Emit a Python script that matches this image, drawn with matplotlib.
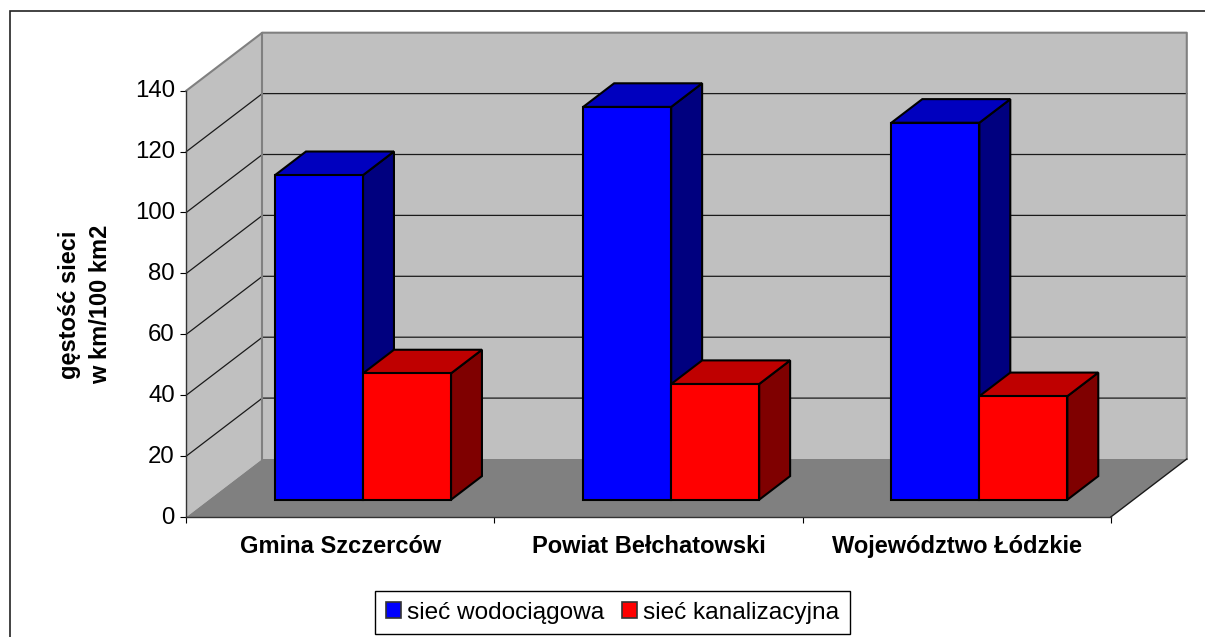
"""Polish network density chart, drawn as an Excel-style oblique 3D column chart."""

import matplotlib.pyplot as plt
from matplotlib.patches import Patch, Polygon, Rectangle
from matplotlib.transforms import ScaledTranslation

plt.rcParams["font.family"] = ["Liberation Sans", "DejaVu Sans"]

categories = ["Gmina Szczerców", "Powiat Bełchatowski", "Województwo Łódzkie"]
water = [106.6, 129, 123.8]
sewer = [41.5, 38, 34]
series_names = ["sieć wodociągowa", "sieć kanalizacyjna"]
y_ticks = [0, 20, 40, 60, 80, 100, 120, 140]
y_label = "gęstość sieci\nw km/100 km2"

# oblique depth of the chart box, in data units (1 depth = back wall)
DX = 76 / 308.2
DY = 58 / 3.045
BAR_W = 88 / 308.2
BAR_D0, BAR_D1 = 0.298, 0.705


def proj(x, y, d=0.0):
    return (x + d * DX, y + d * DY)


def quad(ax, pts, face, edge="none", lw=0.0, z=1):
    ax.add_patch(Polygon(pts, closed=True, facecolor=face, edgecolor=edge,
                         linewidth=lw, zorder=z, clip_on=False, joinstyle="miter"))


def draw_box(ax, x0, x1, h, colors, z):
    front, top, side = colors
    lw = 1.5
    quad(ax, [proj(x1, 0, BAR_D0), proj(x1, 0, BAR_D1), proj(x1, h, BAR_D1), proj(x1, h, BAR_D0)],
         side, "black", lw, z)
    quad(ax, [proj(x0, h, BAR_D0), proj(x0, h, BAR_D1), proj(x1, h, BAR_D1), proj(x1, h, BAR_D0)],
         top, "black", lw, z)
    quad(ax, [proj(x0, 0, BAR_D0), proj(x1, 0, BAR_D0), proj(x1, h, BAR_D0), proj(x0, h, BAR_D0)],
         front, "black", lw, z + 0.1)


def main():
    fig = plt.figure(figsize=(12.05, 6.37), dpi=100)
    fig.patch.set_facecolor("white")
    fig.add_artist(Rectangle((10 / 1205, -0.01), 1.1, 1 - 11 / 637 + 0.01,
                             transform=fig.transFigure, facecolor="none",
                             edgecolor="#222222", linewidth=1.2))

    ax = fig.add_axes([186.3 / 1205, (637 - 517) / 637, 924.5 / 1205, 426.3 / 637])
    ax.set_xlim(0, 3)
    ax.set_ylim(0, 140)
    ax.patch.set_visible(False)

    # walls and floor
    top = y_ticks[-1]
    quad(ax, [proj(0, 0, 1), proj(3, 0, 1), proj(3, top, 1), proj(0, top, 1)], "#c0c0c0", z=1)
    quad(ax, [proj(0, 0), proj(0, 0, 1), proj(0, top, 1), proj(0, top)], "#c0c0c0", z=1)
    quad(ax, [proj(0, 0), proj(3, 0), proj(3, 0, 1), proj(0, 0, 1)], "#808080", z=1)

    for v in y_ticks[1:-1]:
        xs, ys = zip(proj(0, v), proj(0, v, 1), proj(3, v, 1))
        ax.plot(xs, ys, color="#1a1a1a", lw=0.9, zorder=2, clip_on=False)

    # wall outlines
    xs, ys = zip(proj(0, top), proj(0, top, 1), proj(3, top, 1), proj(3, 0, 1))
    ax.plot(xs, ys, color="#808080", lw=1.5, zorder=2, clip_on=False)
    xs, ys = zip(proj(0, 0, 1), proj(0, top, 1))
    ax.plot(xs, ys, color="#808080", lw=1.5, zorder=2, clip_on=False)
    xs, ys = zip(proj(3, 0), proj(3, 0, 1))
    ax.plot(xs, ys, color="#1a1a1a", lw=1.0, zorder=2, clip_on=False)

    # columns
    for i in range(len(categories)):
        c = i + 0.5
        draw_box(ax, c - BAR_W, c, water[i], ("#0000ff", "#0000bf", "#00007f"), 3 + i)
        draw_box(ax, c, c + BAR_W, sewer[i], ("#ff0000", "#bf0000", "#7f0000"), 3.5 + i)

    # axes
    for side in ("top", "right"):
        ax.spines[side].set_visible(False)
    for side in ("left", "bottom"):
        ax.spines[side].set_linewidth(1.0)
        ax.spines[side].set_color("#333333")
        ax.spines[side].set_zorder(2.5)
    ax.set_yticks(y_ticks)
    ax.set_xticks([0, 1, 2, 3])
    ax.set_xticklabels([])
    ax.set_xticks([0.5, 1.5, 2.5], minor=True)
    ax.set_xticklabels(categories, minor=True, fontsize=17, fontweight="bold", color="black")
    ax.tick_params(axis="x", which="minor", length=0, pad=13)
    ax.tick_params(axis="x", which="major", length=4.5, width=0.8, direction="out")
    ax.tick_params(axis="y", length=4.5, width=0.8, direction="out", labelsize=17.3, pad=3.8)
    nudge = ScaledTranslation(0, 2 / 100, fig.dpi_scale_trans)
    for label in ax.get_yticklabels():
        label.set_transform(label.get_transform() + nudge)

    fig.text(85.5 / 1205, 1 - 304.5 / 637, y_label, rotation=90, ha="center", va="center",
             fontsize=17, fontweight="bold", linespacing=1.45)

    handles = [Patch(facecolor="#0000ff", edgecolor="#333333", linewidth=1.2),
               Patch(facecolor="#ff0000", edgecolor="#333333", linewidth=1.2)]
    leg = fig.legend(handles, series_names, ncols=2, fontsize=17.6,
                     loc="center", bbox_to_anchor=(612.5 / 1205, 1 - 612.5 / 637),
                     fancybox=False, framealpha=1, edgecolor="black",
                     handlelength=0.63, handleheight=0.63, handletextpad=0.25,
                     columnspacing=0.7, borderpad=0.44, borderaxespad=0)
    leg.get_frame().set_linewidth(1.0)

    fig.savefig("out.png", dpi=100)


if __name__ == "__main__":
    main()
